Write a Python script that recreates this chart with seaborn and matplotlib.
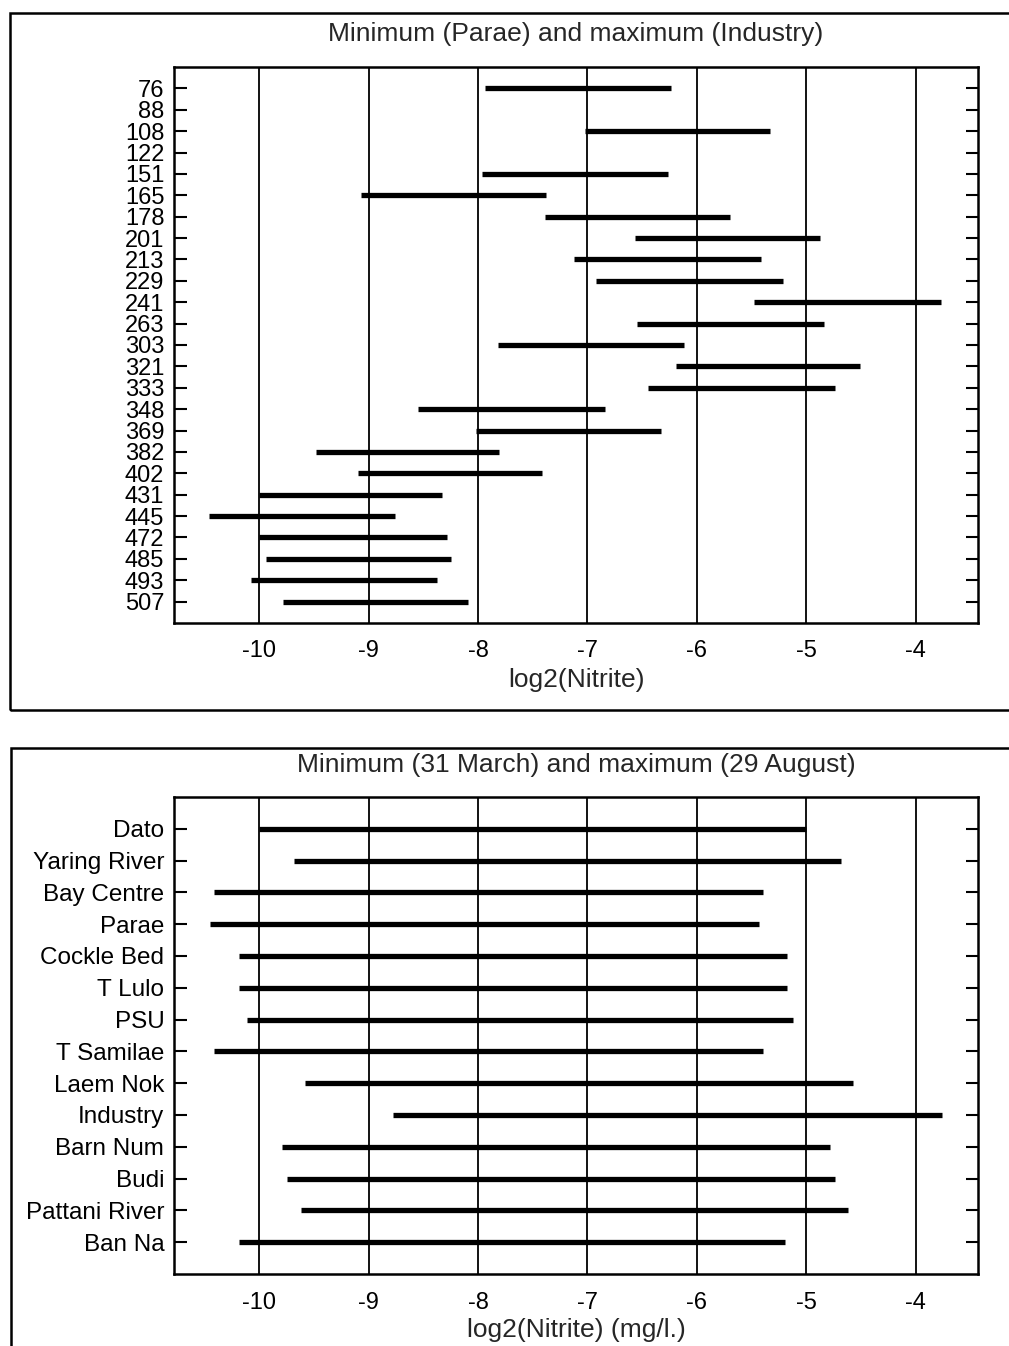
import numpy as np
import pandas as pd
import matplotlib
matplotlib.use("Agg")
import matplotlib.pyplot as plt
import seaborn as sns
from matplotlib.patches import Rectangle

# ---------------- data ----------------
sites_top = ['76', '88', '108', '122', '151', '165', '178', '201', '213', '229',
             '241', '263', '303', '321', '333', '348', '369', '382', '402', '431',
             '445', '472', '485', '493', '507']
min_top = [-7.94, np.nan, -7.02, np.nan, -7.96, -9.07, -7.39, -6.57, -7.12, -6.92,
           -5.48, -6.55, -7.82, -6.19, -6.45, -8.55, -8.02, -9.48, -9.10, -10.00,
           -10.46, -10.00, -9.94, -10.08, -9.78]
max_top = [-6.24, np.nan, -5.33, np.nan, -6.26, -7.38, -5.70, -4.87, -5.41, -5.21,
           -3.77, -4.84, -6.12, -4.51, -4.74, -6.84, -6.33, -7.81, -7.42, -8.33,
           -8.76, -8.28, -8.25, -8.38, -8.09]

sites_bot = ['Dato', 'Yaring River', 'Bay Centre', 'Parae', 'Cockle Bed', 'T Lulo',
             'PSU', 'T Samilae', 'Laem Nok', 'Industry', 'Barn Num', 'Budi',
             'Pattani River', 'Ban Na']
min_bot = [-10.00, -9.68, -10.41, -10.45, -10.19, -10.19, -10.11, -10.41, -9.58,
           -8.78, -9.79, -9.75, -9.62, -10.19]
max_bot = [-5.00, -4.68, -5.40, -5.43, -5.18, -5.18, -5.12, -5.40, -4.57,
           -3.76, -4.78, -4.74, -4.62, -5.19]

x_ticks = [-10, -9, -8, -7, -6, -5, -4]
title_top = "Minimum (Parae) and maximum (Industry)"
title_bot = "Minimum (31 March) and maximum (29 August)"
xlabel_top = "log2(Nitrite)"
xlabel_bot = "log2(Nitrite) (mg/l.)"

# ---------------- style ----------------
sns.set_style("white")
plt.rcParams['font.family'] = ['Liberation Sans', 'DejaVu Sans']

W, H = 1009, 1346
fig = plt.figure(figsize=(W / 100, H / 100), dpi=100)
ax1 = fig.add_axes([174 / W, 1 - 623 / H, (978 - 174) / W, (623 - 67) / H])
ax2 = fig.add_axes([174 / W, 1 - 1274 / H, (978 - 174) / W, (1274 - 797) / H])


def to_long(sites, mins, maxs):
    rows = []
    for s, lo, hi in zip(sites, mins, maxs):
        if np.isnan(lo) or np.isnan(hi):
            continue
        rows.append({'site': s, 'value': lo})
        rows.append({'site': s, 'value': hi})
    return pd.DataFrame(rows)


def draw(ax, sites, mins, maxs, ylab_size, xlabel, xlab_y, tick_pad):
    df = to_long(sites, mins, maxs)
    sns.pointplot(data=df, x='value', y='site', order=sites,
                  estimator='mean', errorbar=lambda v: (v.min(), v.max()),
                  color='black', capsize=0, marker='', linestyle='none',
                  err_kws={'linewidth': 3.8, 'solid_capstyle': 'butt'}, ax=ax)
    ax.set_xlim(-10.78, -3.43)
    ax.set_ylim(len(sites), -1)
    ax.set_xticks(x_ticks)
    ax.set_xticklabels([str(t) for t in x_ticks])
    ax.grid(axis='x', color='black', linewidth=1.3)
    ax.grid(axis='y', visible=False)
    ax.set_ylabel('')
    ax.set_xlabel(xlabel, fontsize=19)
    ax.xaxis.set_label_coords(0.5, xlab_y)
    ax.tick_params(axis='x', length=0, labelsize=17, pad=tick_pad, colors='black')
    ax.tick_params(axis='y', left=True, right=True, direction='in', length=9,
                   width=1.5, labelsize=ylab_size, pad=7, colors='black')
    for sp in ax.spines.values():
        sp.set_visible(True)
        sp.set_color('black')
        sp.set_linewidth(1.8)


draw(ax1, sites_top, min_top, max_top, 17, xlabel_top, -0.081, 12)
draw(ax2, sites_bot, min_bot, max_bot, 17.5, xlabel_bot, -0.092, 13)

fig.text(576 / W, 1 - 34 / H, title_top, ha='center', va='center', fontsize=19)
fig.text(576 / W, 1 - 765 / H, title_bot, ha='center', va='center', fontsize=19)

# panel frames
fig.patches.append(Rectangle((10 / W, 1 - 710 / H), 1.1, (710 - 13) / H,
                             transform=fig.transFigure, fill=False,
                             edgecolor='black', linewidth=1.8))
fig.patches.append(Rectangle((11 / W, -0.02), 1.1, (1 - 748 / H) + 0.02,
                             transform=fig.transFigure, fill=False,
                             edgecolor='black', linewidth=1.8))

fig.savefig("out.png", dpi=100)
